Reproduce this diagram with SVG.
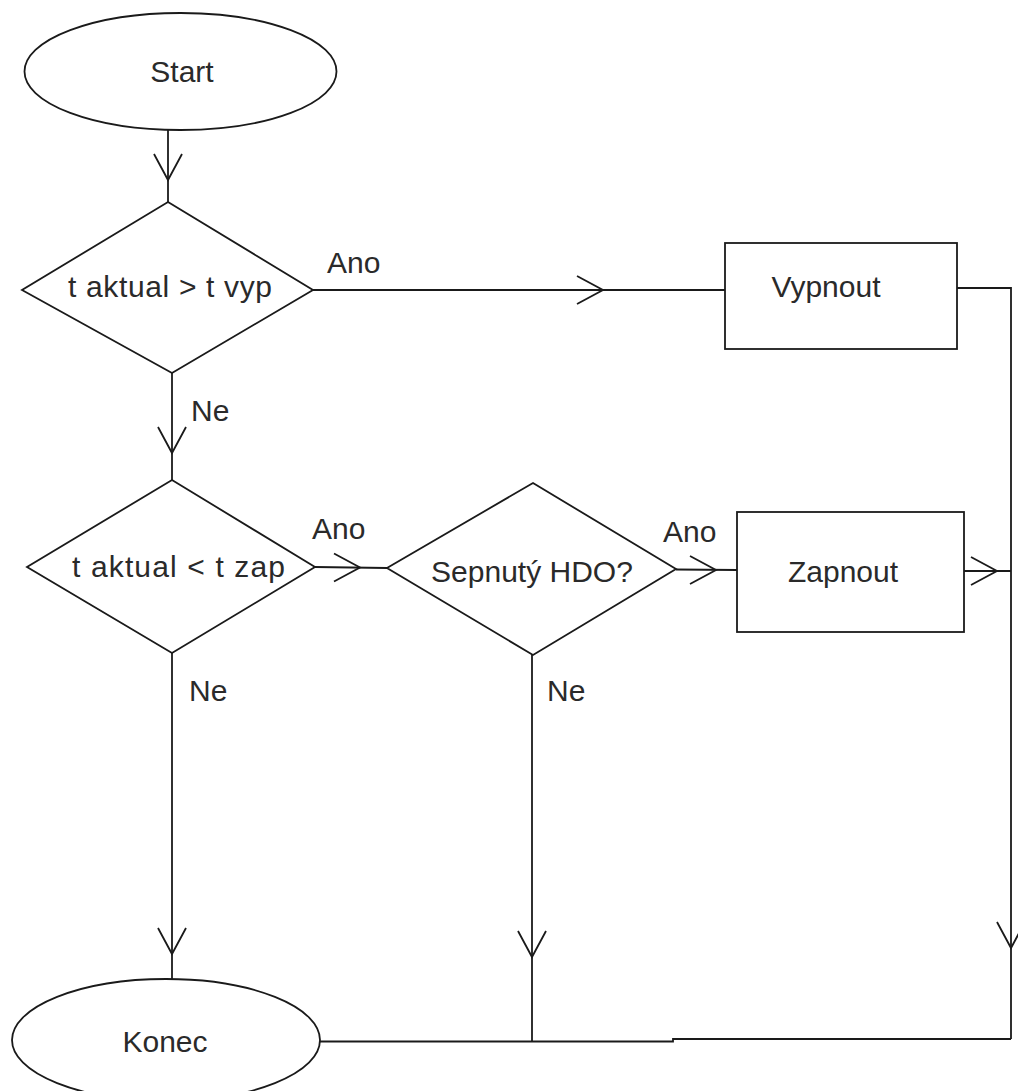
<svg xmlns="http://www.w3.org/2000/svg" xmlns:xlink="http://www.w3.org/1999/xlink" width="1018" height="1091" viewBox="0 0 1018 1091">
<style>
  .shape { fill: #ffffff; stroke: #1a1a1a; stroke-width: 1.8; }
  .line { fill: none; stroke: #1a1a1a; stroke-width: 1.8; }
  .lbl { font-family: "Liberation Sans", Arial, sans-serif; font-size: 30px; fill: #2a2a2a; }
  .mid { text-anchor: middle; }
</style>
<defs>
  <path id="ah" d="M-26,-14 L0,0 L-26,14" fill="none" stroke="#1a1a1a" stroke-width="1.8"/>
</defs>
<rect width="1018" height="1091" fill="#ffffff"/>

<g id="connectors">
  <path class="line" d="M168,130 L168,202"/>
  <use xlink:href="#ah" transform="translate(168,180) rotate(90)"/>
  <path class="line" d="M313,290 L725,290"/>
  <use xlink:href="#ah" transform="translate(603,290)"/>
  <path class="line" d="M172,373 L172,480"/>
  <use xlink:href="#ah" transform="translate(172,453) rotate(90)"/>
  <path class="line" d="M315,567 L387,568"/>
  <use xlink:href="#ah" transform="translate(360,567.5)"/>
  <path class="line" d="M676,569.5 L737,570"/>
  <use xlink:href="#ah" transform="translate(716,570)"/>
  <path class="line" d="M957,288 L1011,288 L1011,1039"/>
  <use xlink:href="#ah" transform="translate(1011,948) rotate(90)"/>
  <path class="line" d="M964,571 L1011,571"/>
  <use xlink:href="#ah" transform="translate(997,571)"/>
  <path class="line" d="M172,653 L172,979"/>
  <use xlink:href="#ah" transform="translate(172,954) rotate(90)"/>
  <path class="line" d="M532,655 L532,1041.5"/>
  <use xlink:href="#ah" transform="translate(532,957) rotate(90)"/>
  <path class="line" d="M320,1041.5 L673,1041.5 L673,1039 L1011,1039"/>
  <text class="lbl" x="327" y="273">Ano</text>
  <text class="lbl" x="191" y="421">Ne</text>
  <text class="lbl" x="312" y="539">Ano</text>
  <text class="lbl" x="663" y="542">Ano</text>
  <text class="lbl" x="189" y="701">Ne</text>
  <text class="lbl" x="547" y="701">Ne</text>
</g>

<g id="start">
  <ellipse class="shape" cx="180.5" cy="71.5" rx="156" ry="58.5"/>
  <text class="lbl mid" x="182" y="82">Start</text>
</g>

<g id="cond-vyp">
  <polygon class="shape" points="168,202 313,290 172,373 22,290"/>
  <text class="lbl" x="68" y="297" textLength="204">t aktual &gt; t vyp</text>
</g>

<g id="vypnout">
  <rect class="shape" x="725" y="243" width="232" height="106"/>
  <text class="lbl mid" x="826" y="297">Vypnout</text>
</g>

<g id="cond-zap">
  <polygon class="shape" points="172,480 315,567 172,653 27,567"/>
  <text class="lbl" x="72" y="577" textLength="213">t aktual &lt; t zap</text>
</g>

<g id="hdo">
  <polygon class="shape" points="533,483 676,569 533,655 387,568"/>
  <text class="lbl mid" x="532" y="582">Sepnutý HDO?</text>
</g>

<g id="zapnout">
  <rect class="shape" x="737" y="512" width="227" height="120"/>
  <text class="lbl mid" x="843" y="582">Zapnout</text>
</g>

<g id="konec">
  <ellipse class="shape" cx="166" cy="1040" rx="154" ry="61"/>
  <text class="lbl mid" x="165" y="1052">Konec</text>
</g>
</svg>
